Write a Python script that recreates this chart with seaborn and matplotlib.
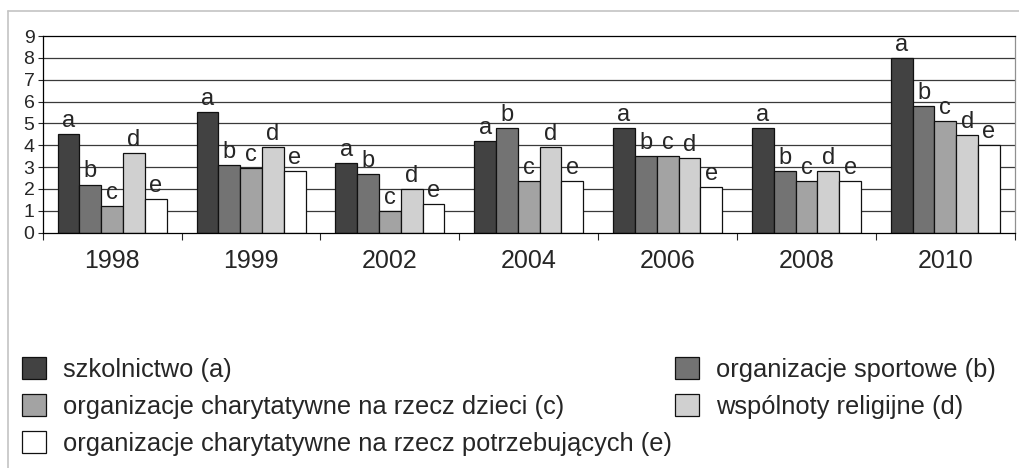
import pandas as pd
import numpy as np
import seaborn as sns
import matplotlib.pyplot as plt
from matplotlib.lines import Line2D

# Years and the values for each type of organisation
years = ["1998", "1999", "2002", "2004", "2006", "2008", "2010"]
szkolnictwo = [4.5, 5.5, 3.2, 4.2, 4.8, 4.8, 8.0]
sportowe = [2.2, 3.1, 2.7, 4.8, 3.5, 2.8, 5.8]
dzieci = [1.2, 2.95, 1.0, 2.35, 3.5, 2.35, 5.1]
religijne = [3.65, 3.9, 2.0, 3.9, 3.4, 2.8, 4.45]
potrzebujacy = [1.55, 2.8, 1.3, 2.35, 2.1, 2.35, 4.0]

series_names = ["szkolnictwo (a)", "organizacje sportowe (b)",
                "organizacje charytatywne na rzecz dzieci (c)", "wspólnoty religijne (d)",
                "organizacje charytatywne na rzecz potrzebujących (e)"]
letters = ["a", "b", "c", "d", "e"]
colors = ["#424242", "#737373", "#a3a3a3", "#d0d0d0", "#ffffff"]

# Build a long-form table for seaborn
values = [szkolnictwo, sportowe, dzieci, religijne, potrzebujacy]
rows = []
for name, vals in zip(series_names, values):
    for year, v in zip(years, vals):
        rows.append({"rok": year, "typ": name, "wartosc": v})
df = pd.DataFrame(rows)

sns.set_style("white")
plt.rcParams['font.family'] = ['Liberation Sans', 'DejaVu Sans']

fig = plt.figure(figsize=(10.2, 4.68), dpi=100)
ax = fig.add_axes([0.0419, 0.503, 0.953, 0.42])

sns.barplot(data=df, x="rok", y="wartosc", hue="typ", hue_order=series_names,
            order=years, palette=colors, width=0.785, edgecolor="#111111",
            linewidth=0.9, legend=False, ax=ax, errorbar=None, saturation=1)

# Letters above the bars
for container, letter in zip(ax.containers, letters):
    ax.bar_label(container, labels=[letter] * len(container), padding=1.5, fontsize=17)

# Axes styling
ax.set_ylim(0, 9)
ax.set_xlim(-0.5, len(years) - 0.5)
ax.set_yticks(range(10))
ax.set_yticklabels([str(i) for i in range(10)], fontsize=14)
ax.tick_params(axis="y", direction="out", length=3.5, width=0.8, pad=2.5, left=True)
ax.set_xticks(range(len(years)))
ax.set_xticklabels(years, fontsize=18)
ax.tick_params(axis="x", which="major", length=0, pad=12)
ax.set_xticks(np.arange(-0.5, len(years)), minor=True)
ax.tick_params(axis="x", which="minor", direction="out", length=5, width=0.8, bottom=True)
ax.set_xlabel("")
ax.set_ylabel("")

for y in range(1, 9):
    ax.axhline(y, color="#3a3a3a", linewidth=0.9, zorder=0)
ax.set_axisbelow(True)

for side in ["left", "bottom", "top"]:
    ax.spines[side].set_color("black")
    ax.spines[side].set_linewidth(0.9)
ax.spines["right"].set_color("#909090")
ax.spines["right"].set_linewidth(0.9)

# Legend: fill row by row (a b / c d / e)
handles = list(ax.containers)
order = [0, 2, 4, 1, 3]
fig.legend([handles[i] for i in order], [series_names[i] for i in order],
           loc="upper left", bbox_to_anchor=(0.0216, 0.237), ncol=2, frameon=False,
           fontsize=18.4, handlelength=0.95, handleheight=0.95, handletextpad=0.66,
           labelspacing=0.48, columnspacing=0.1, borderpad=0, borderaxespad=0)

# Light grey outer frame (top and left edges)
fig.add_artist(Line2D([8 / 1020, 1], [1 - 11 / 468, 1 - 11 / 468], color="#c4c4c4", linewidth=1.2))
fig.add_artist(Line2D([8 / 1020, 8 / 1020], [0, 1 - 11 / 468], color="#c4c4c4", linewidth=1.2))

fig.savefig("out.png", dpi=100)
